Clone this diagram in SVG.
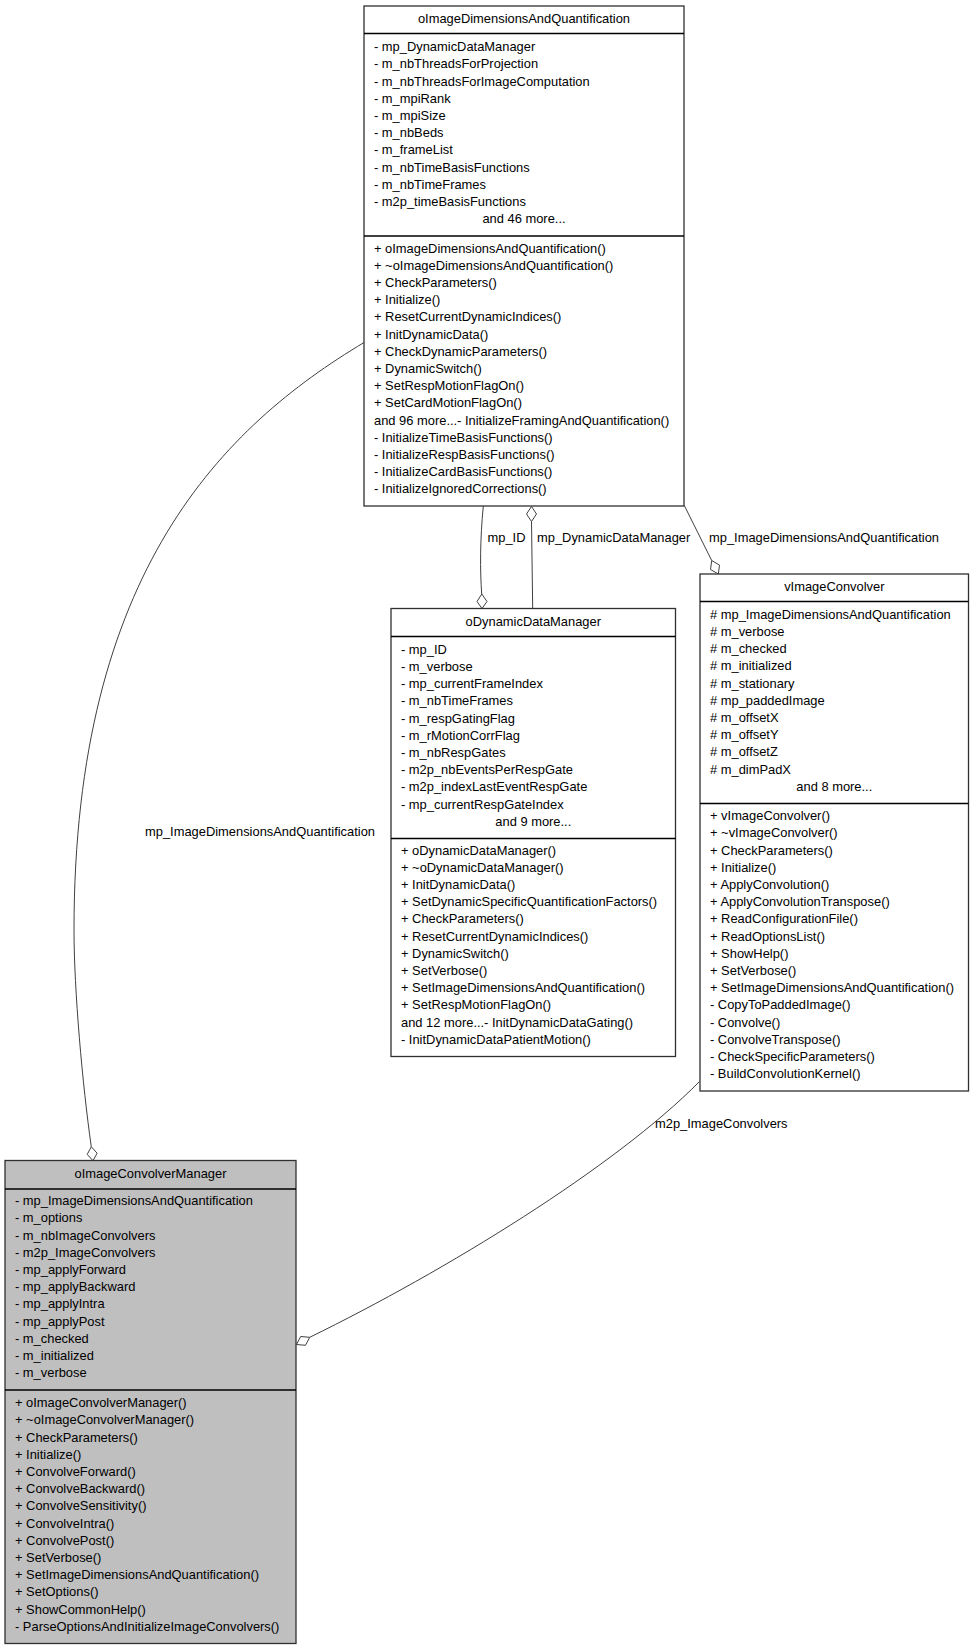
<svg xmlns="http://www.w3.org/2000/svg" width="975" height="1651" viewBox="0 0 975 1651">
<style>
text{font-family:"Liberation Sans",Arial,Helvetica,sans-serif;font-size:12.9px;fill:#000}
.c{text-anchor:middle}
.box{fill:#fff;stroke:#303030;stroke-width:1.3}
.grey{fill:#bfbfbf}
.sep{stroke:#000;stroke-width:1.3}
.edge{fill:none;stroke:#404040;stroke-width:1}
.dia{fill:#fff;stroke:#404040;stroke-width:1}
</style>
<rect width="975" height="1651" fill="#fff"/>
<g id="connectors">
<path class="edge" d="M364,342.5 C225,426 74,570 74,930 C74,990 82.5,1085 91.3,1146.8"/>
<polygon class="dia" points="93,1160.7 97.1,1153.2 91.3,1146.8 87.2,1154.4"/>
<text x="145" y="836">mp_ImageDimensionsAndQuantification</text>
<path class="edge" d="M483.3,506 C480,540 480,570 481.7,594"/>
<polygon class="dia" points="482,608.5 487,601.5 481.8,594 477,601.5"/>
<text x="487.5" y="542">mp_ID</text>
<path class="edge" d="M532.7,608.5 L531.5,521.5"/>
<polygon class="dia" points="531.5,506.5 536.5,514 531.5,521.5 526.5,514"/>
<text x="537" y="542">mp_DynamicDataManager</text>
<path class="edge" d="M684.3,505.5 L711.7,560.5"/>
<polygon class="dia" points="718.3,574 719.5,565.1 711.7,560.5 710.5,569.5"/>
<text x="709" y="542">mp_ImageDimensionsAndQuantification</text>
<path class="edge" d="M699.3,1081.7 C615.3,1166.9 444.7,1271.3 309.7,1337.3"/>
<polygon class="dia" points="296.5,1344.5 305.5,1345.3 309.7,1337.3 300.7,1336.5"/>
<text x="655" y="1128">m2p_ImageConvolvers</text>
</g>
<g id="oImageDimensionsAndQuantification">
<rect class="box" x="364" y="6" width="320" height="500"/>
<line class="sep" x1="364" y1="33.5" x2="684" y2="33.5"/>
<line class="sep" x1="364" y1="236" x2="684" y2="236"/>
<text class="c" x="524" y="23">oImageDimensionsAndQuantification</text>
<text x="374" y="51.2"><tspan x="374">- mp_DynamicDataManager</tspan><tspan x="374" dy="17.2">- m_nbThreadsForProjection</tspan><tspan x="374" dy="17.2">- m_nbThreadsForImageComputation</tspan><tspan x="374" dy="17.2">- m_mpiRank</tspan><tspan x="374" dy="17.2">- m_mpiSize</tspan><tspan x="374" dy="17.2">- m_nbBeds</tspan><tspan x="374" dy="17.2">- m_frameList</tspan><tspan x="374" dy="17.2">- m_nbTimeBasisFunctions</tspan><tspan x="374" dy="17.2">- m_nbTimeFrames</tspan><tspan x="374" dy="17.2">- m2p_timeBasisFunctions</tspan></text>
<text class="c" x="524" y="223.2">and 46 more...</text>
<text x="374" y="252.6"><tspan x="374">+ oImageDimensionsAndQuantification()</tspan><tspan x="374" dy="17.2">+ ~oImageDimensionsAndQuantification()</tspan><tspan x="374" dy="17.2">+ CheckParameters()</tspan><tspan x="374" dy="17.2">+ Initialize()</tspan><tspan x="374" dy="17.2">+ ResetCurrentDynamicIndices()</tspan><tspan x="374" dy="17.2">+ InitDynamicData()</tspan><tspan x="374" dy="17.2">+ CheckDynamicParameters()</tspan><tspan x="374" dy="17.2">+ DynamicSwitch()</tspan><tspan x="374" dy="17.2">+ SetRespMotionFlagOn()</tspan><tspan x="374" dy="17.2">+ SetCardMotionFlagOn()</tspan><tspan x="374" dy="17.2">and 96 more...- InitializeFramingAndQuantification()</tspan><tspan x="374" dy="17.2">- InitializeTimeBasisFunctions()</tspan><tspan x="374" dy="17.2">- InitializeRespBasisFunctions()</tspan><tspan x="374" dy="17.2">- InitializeCardBasisFunctions()</tspan><tspan x="374" dy="17.2">- InitializeIgnoredCorrections()</tspan></text>
</g>
<g id="oDynamicDataManager">
<rect class="box" x="391" y="608.5" width="284.5" height="448"/>
<line class="sep" x1="391" y1="636.5" x2="675.5" y2="636.5"/>
<line class="sep" x1="391" y1="838.5" x2="675.5" y2="838.5"/>
<text class="c" x="533.3" y="626">oDynamicDataManager</text>
<text x="401" y="653.7"><tspan x="401">- mp_ID</tspan><tspan x="401" dy="17.2">- m_verbose</tspan><tspan x="401" dy="17.2">- mp_currentFrameIndex</tspan><tspan x="401" dy="17.2">- m_nbTimeFrames</tspan><tspan x="401" dy="17.2">- m_respGatingFlag</tspan><tspan x="401" dy="17.2">- m_rMotionCorrFlag</tspan><tspan x="401" dy="17.2">- m_nbRespGates</tspan><tspan x="401" dy="17.2">- m2p_nbEventsPerRespGate</tspan><tspan x="401" dy="17.2">- m2p_indexLastEventRespGate</tspan><tspan x="401" dy="17.2">- mp_currentRespGateIndex</tspan></text>
<text class="c" x="533.3" y="825.7">and 9 more...</text>
<text x="401" y="854.5"><tspan x="401">+ oDynamicDataManager()</tspan><tspan x="401" dy="17.2">+ ~oDynamicDataManager()</tspan><tspan x="401" dy="17.2">+ InitDynamicData()</tspan><tspan x="401" dy="17.2">+ SetDynamicSpecificQuantificationFactors()</tspan><tspan x="401" dy="17.2">+ CheckParameters()</tspan><tspan x="401" dy="17.2">+ ResetCurrentDynamicIndices()</tspan><tspan x="401" dy="17.2">+ DynamicSwitch()</tspan><tspan x="401" dy="17.2">+ SetVerbose()</tspan><tspan x="401" dy="17.2">+ SetImageDimensionsAndQuantification()</tspan><tspan x="401" dy="17.2">+ SetRespMotionFlagOn()</tspan><tspan x="401" dy="17.2">and 12 more...- InitDynamicDataGating()</tspan><tspan x="401" dy="17.2">- InitDynamicDataPatientMotion()</tspan></text>
</g>
<g id="vImageConvolver">
<rect class="box" x="700" y="574" width="268.5" height="517"/>
<line class="sep" x1="700" y1="601.5" x2="968.5" y2="601.5"/>
<line class="sep" x1="700" y1="803.5" x2="968.5" y2="803.5"/>
<text class="c" x="834.3" y="591">vImageConvolver</text>
<text x="710" y="618.7"><tspan x="710"># mp_ImageDimensionsAndQuantification</tspan><tspan x="710" dy="17.2"># m_verbose</tspan><tspan x="710" dy="17.2"># m_checked</tspan><tspan x="710" dy="17.2"># m_initialized</tspan><tspan x="710" dy="17.2"># m_stationary</tspan><tspan x="710" dy="17.2"># mp_paddedImage</tspan><tspan x="710" dy="17.2"># m_offsetX</tspan><tspan x="710" dy="17.2"># m_offsetY</tspan><tspan x="710" dy="17.2"># m_offsetZ</tspan><tspan x="710" dy="17.2"># m_dimPadX</tspan></text>
<text class="c" x="834.3" y="790.7">and 8 more...</text>
<text x="710" y="820.2"><tspan x="710">+ vImageConvolver()</tspan><tspan x="710" dy="17.2">+ ~vImageConvolver()</tspan><tspan x="710" dy="17.2">+ CheckParameters()</tspan><tspan x="710" dy="17.2">+ Initialize()</tspan><tspan x="710" dy="17.2">+ ApplyConvolution()</tspan><tspan x="710" dy="17.2">+ ApplyConvolutionTranspose()</tspan><tspan x="710" dy="17.2">+ ReadConfigurationFile()</tspan><tspan x="710" dy="17.2">+ ReadOptionsList()</tspan><tspan x="710" dy="17.2">+ ShowHelp()</tspan><tspan x="710" dy="17.2">+ SetVerbose()</tspan><tspan x="710" dy="17.2">+ SetImageDimensionsAndQuantification()</tspan><tspan x="710" dy="17.2">- CopyToPaddedImage()</tspan><tspan x="710" dy="17.2">- Convolve()</tspan><tspan x="710" dy="17.2">- ConvolveTranspose()</tspan><tspan x="710" dy="17.2">- CheckSpecificParameters()</tspan><tspan x="710" dy="17.2">- BuildConvolutionKernel()</tspan></text>
</g>
<g id="oImageConvolverManager">
<rect class="box grey" x="5" y="1160.5" width="291" height="483"/>
<line class="sep" x1="5" y1="1189" x2="296" y2="1189"/>
<line class="sep" x1="5" y1="1390" x2="296" y2="1390"/>
<text class="c" x="150.5" y="1178">oImageConvolverManager</text>
<text x="15" y="1205.2"><tspan x="15">- mp_ImageDimensionsAndQuantification</tspan><tspan x="15" dy="17.2">- m_options</tspan><tspan x="15" dy="17.2">- m_nbImageConvolvers</tspan><tspan x="15" dy="17.2">- m2p_ImageConvolvers</tspan><tspan x="15" dy="17.2">- mp_applyForward</tspan><tspan x="15" dy="17.2">- mp_applyBackward</tspan><tspan x="15" dy="17.2">- mp_applyIntra</tspan><tspan x="15" dy="17.2">- mp_applyPost</tspan><tspan x="15" dy="17.2">- m_checked</tspan><tspan x="15" dy="17.2">- m_initialized</tspan><tspan x="15" dy="17.2">- m_verbose</tspan></text>
<text x="15" y="1407.1"><tspan x="15">+ oImageConvolverManager()</tspan><tspan x="15" dy="17.2">+ ~oImageConvolverManager()</tspan><tspan x="15" dy="17.2">+ CheckParameters()</tspan><tspan x="15" dy="17.2">+ Initialize()</tspan><tspan x="15" dy="17.2">+ ConvolveForward()</tspan><tspan x="15" dy="17.2">+ ConvolveBackward()</tspan><tspan x="15" dy="17.2">+ ConvolveSensitivity()</tspan><tspan x="15" dy="17.2">+ ConvolveIntra()</tspan><tspan x="15" dy="17.2">+ ConvolvePost()</tspan><tspan x="15" dy="17.2">+ SetVerbose()</tspan><tspan x="15" dy="17.2">+ SetImageDimensionsAndQuantification()</tspan><tspan x="15" dy="17.2">+ SetOptions()</tspan><tspan x="15" dy="17.2">+ ShowCommonHelp()</tspan><tspan x="15" dy="17.2">- ParseOptionsAndInitializeImageConvolvers()</tspan></text>
</g>
</svg>
